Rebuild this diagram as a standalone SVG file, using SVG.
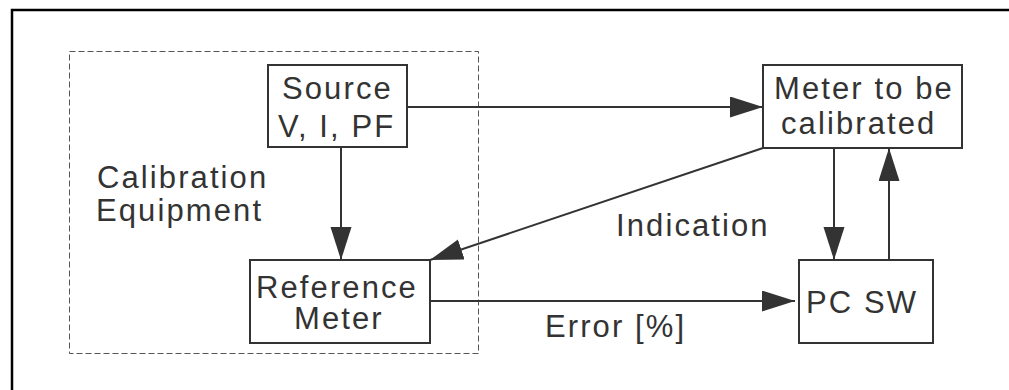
<svg xmlns="http://www.w3.org/2000/svg" width="1009" height="390" viewBox="0 0 1009 390">
<style>
.box{fill:#fff;stroke:#333;stroke-width:2}
.t{font-family:"Liberation Sans",Arial,sans-serif;font-size:31px;letter-spacing:2.1px;fill:#333}
.c{stroke:#333;stroke-width:2;fill:none}
</style>
<defs>
<marker id="ah" markerUnits="userSpaceOnUse" markerWidth="34" markerHeight="22" refX="33" refY="10.5" orient="auto">
<path d="M0,0 L33,10.5 L0,21 z" fill="#333"/>
</marker>
</defs>
<rect width="1009" height="390" fill="#fff"/>
<path d="M12,390 V10 H1009" stroke="#000" stroke-width="2.5" fill="none"/>
<g id="group-calibration">
<rect x="69.5" y="51.5" width="409" height="302" fill="none" stroke="#555" stroke-width="1" stroke-dasharray="6,3"/>
<text class="t" x="97" y="188">Calibration</text>
<text class="t" x="96" y="221">Equipment</text>
</g>
<g id="connectors">
<line class="c" x1="407" y1="107" x2="763" y2="107" marker-end="url(#ah)"/>
<line class="c" x1="341" y1="147" x2="341" y2="260" marker-end="url(#ah)"/>
<line class="c" x1="763" y1="148" x2="430" y2="260" marker-end="url(#ah)"/>
<line class="c" x1="430" y1="301" x2="795" y2="301" marker-end="url(#ah)"/>
<line class="c" x1="834" y1="148" x2="834" y2="260" marker-end="url(#ah)"/>
<line class="c" x1="889" y1="260" x2="889" y2="148" marker-end="url(#ah)"/>
<text class="t" x="616" y="236">Indication</text>
<text class="t" x="545" y="337">Error [%]</text>
</g>
<g id="source">
<rect class="box" x="268" y="65" width="139" height="82"/>
<text class="t" x="282" y="99">Source</text>
<text class="t" x="278" y="137">V, I, PF</text>
</g>
<g id="meter-cal">
<rect class="box" x="763" y="65" width="199" height="83"/>
<text class="t" x="774" y="99">Meter to be</text>
<text class="t" x="781" y="134">calibrated</text>
</g>
<g id="reference">
<rect class="box" x="250" y="260" width="180" height="83"/>
<text class="t" x="256" y="298">Reference</text>
<text class="t" x="294" y="329">Meter</text>
</g>
<g id="pcsw">
<rect class="box" x="799" y="260" width="134" height="83"/>
<text class="t" x="806" y="313">PC SW</text>
</g>
</svg>
